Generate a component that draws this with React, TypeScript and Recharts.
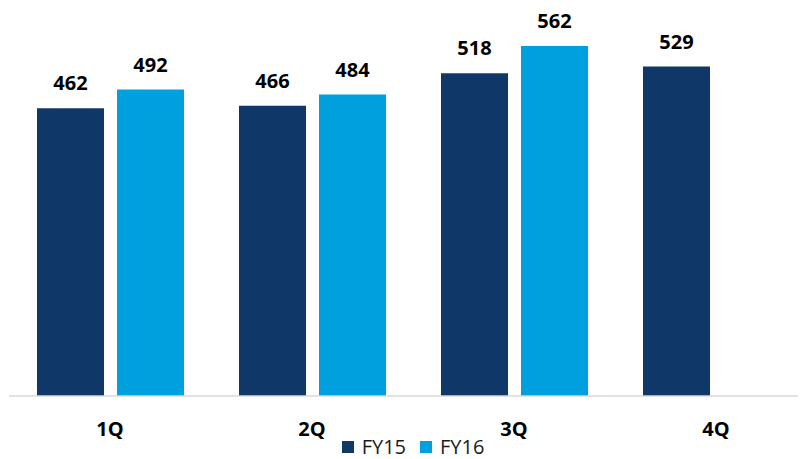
import { BarChart, Bar, XAxis, YAxis, Legend, LabelList } from 'recharts';

const quarters = ['1Q', '2Q', '3Q', '4Q'];
const fy15 = [462, 466, 518, 529];
const fy16: (number | null)[] = [492, 484, 562, null];

const data = quarters.map((q, i) => ({ quarter: q, FY15: fy15[i], FY16: fy16[i] }));

const FONT = '"Open Sans", "Liberation Sans", sans-serif';
const NAVY = '#0F3868';
const SKY = '#00A0DF';

function LegendBox() {
  const items = [
    { name: 'FY15', color: NAVY },
    { name: 'FY16', color: SKY },
  ];
  return (
    <div
      style={{
        display: 'flex',
        justifyContent: 'center',
        alignItems: 'center',
        height: 24,
        fontFamily: FONT,
        fontSize: 20,
        color: '#1a1a1a',
      }}
    >
      {items.map((it, i) => (
        <div key={it.name} style={{ display: 'flex', alignItems: 'center', marginLeft: i ? 14 : 0 }}>
          <span style={{ width: 12, height: 12, background: it.color, marginRight: 8, display: 'inline-block' }} />
          <span style={{ lineHeight: '24px' }}>{it.name}</span>
        </div>
      ))}
    </div>
  );
}

export default function App() {
  return (
    <div style={{ width: 798, height: 451, overflow: 'hidden' }}>
      <BarChart
        width={812}
        height={451}
        data={data}
        margin={{ top: 14.3, right: 3, bottom: 0, left: 1 }}
        barSize={67}
        barGap={13}
      >
        <XAxis
          dataKey="quarter"
          height={39}
          axisLine={{ stroke: '#D9D9D9', strokeWidth: 1.5 }}
          tickLine={false}
          tickSize={0}
          tickMargin={26}
          tick={{ fill: '#000', fontFamily: FONT, fontSize: 20, fontWeight: 700 }}
        />
        <YAxis hide domain={[0, 600]} />
        <Legend verticalAlign="bottom" align="center" content={() => <LegendBox />} />
        <Bar dataKey="FY15" fill={NAVY} isAnimationActive={false}>
          <LabelList
            dataKey="FY15"
            position="top"
            offset={18}
            style={{ fill: '#000', fontFamily: FONT, fontSize: 20, fontWeight: 700 }}
          />
        </Bar>
        <Bar dataKey="FY16" fill={SKY} isAnimationActive={false}>
          <LabelList
            dataKey="FY16"
            position="top"
            offset={18}
            style={{ fill: '#000', fontFamily: FONT, fontSize: 20, fontWeight: 700 }}
          />
        </Bar>
      </BarChart>
    </div>
  );
}
